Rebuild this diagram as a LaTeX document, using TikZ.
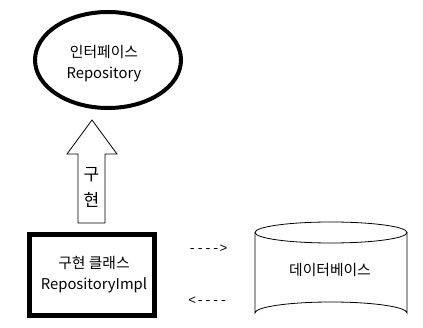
\documentclass[tikz,border=0pt]{standalone}
\usepackage{fontspec}
\setmainfont{Noto Sans CJK KR}
\newfontfamily\monofont{Liberation Mono}
\usetikzlibrary{shapes.geometric}
\begin{document}
\begin{tikzpicture}[x=1pt,y=-1pt,
  lbl/.style={inner sep=0pt,align=center,font=\fontsize{14.8}{21}\selectfont},
  arrtxt/.style={inner sep=0pt,font=\monofont\fontsize{13}{13}\selectfont}]
\useasboundingbox (0,0) rectangle (423,328);
% interface ellipse
\node[draw,ellipse,line width=4pt,minimum width=146pt,minimum height=96pt,inner sep=0pt] (iface) at (108,60) {};
\node[lbl] (ifacetxt) at (104,64) {인터페이스\\Repository};
% implementation arrow
\draw[line width=0.8pt] (78,223) -- (78,154) -- (67,154) -- (92,120) -- (117,154) -- (105,154) -- (105,223) -- cycle;
\node[lbl,font=\fontsize{17}{17}\selectfont] (gu) at (91.5,175) {구};
\node[lbl,font=\fontsize{17}{17}\selectfont] (hyeon) at (91.5,200) {현};
% implementation class box
\node[draw,line width=5pt,minimum width=125pt,minimum height=81pt,inner sep=0pt] (impl) at (92,275) {};
\node[lbl] (impltxt) at (94,275) {구현 클래스\\RepositoryImpl};
% database cylinder
\draw[line width=0.8pt] (255,232.5) -- (255,313) arc[start angle=180,end angle=360,x radius=76,y radius=11] -- (407,232.5);
\draw[line width=0.8pt] (331,232.5) ellipse[x radius=76,y radius=10.5];
\node[lbl] (db) at (330,270) {데이터베이스};
% arrows as text
\node[arrtxt] (toDb) at (208,249) {---->};
\node[arrtxt] (fromDb) at (208,301) {<----};
\end{tikzpicture}
\end{document}
